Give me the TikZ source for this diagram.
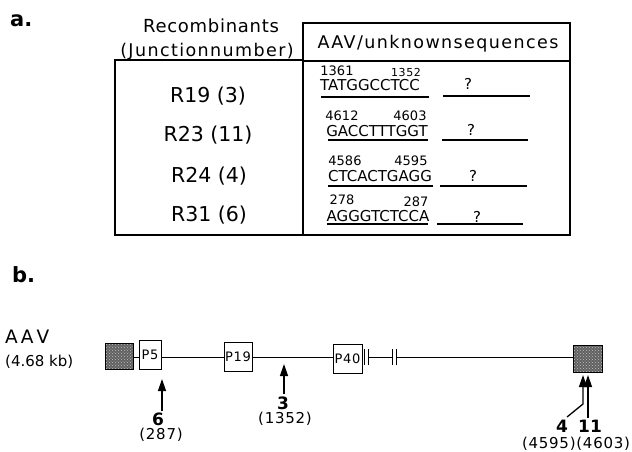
\documentclass[tikz,border=0pt]{standalone}
\usepackage{fontspec}
\setmainfont{DejaVu Sans}
\newfontfamily\lsten{DejaVu Sans}[LetterSpace=10]
\newfontfamily\lseight{DejaVu Sans}[LetterSpace=8]
\newfontfamily\lsfour{DejaVu Sans}[LetterSpace=4]
\newfontfamily\lsfive{DejaVu Sans}[LetterSpace=5]
\usetikzlibrary{arrows.meta,patterns}
\tikzset{
  hdr/.style={font=\lseight\fontsize{17.5}{17.5}\selectfont},
  rlab/.style={font=\fontsize{20.5}{20.5}\selectfont},
  seq/.style={font=\fontsize{15}{15}\selectfont},
  posn/.style={font=\fontsize{13}{13}\selectfont},
  poss/.style={font=\lsfive\fontsize{11}{11}\selectfont},
  qm/.style={font=\fontsize{15}{15}\selectfont},
  panel/.style={font=\bfseries\fontsize{21}{21}\selectfont, anchor=base west},
  pbox/.style={draw, line width=1pt, fill=white, minimum height=29pt, inner sep=0pt, font=\lsfive\fontsize{13}{13}\selectfont},
  gbox/.style={draw, line width=1pt, preaction={fill=black!62}, pattern=crosshatch dots, pattern color=white!75!black},
  junc/.style={font=\bfseries\fontsize{17}{17}\selectfont},
  jpos/.style={font=\lsfive\fontsize{15}{15}\selectfont},
  arr/.style={line width=1.3pt, -{Triangle[length=12pt,width=8pt]}},
  tline/.style={line width=1.3pt},
  uline/.style={line width=1.2pt}
}
\begin{document}
\begin{tikzpicture}[x=1pt,y=-1pt, every node/.style={inner sep=0pt}]
\useasboundingbox[fill=white] (0,0) rectangle (632,451);

% ---------- panel a ----------
\node[panel] (pa) at (10,26) {a.};
\node[font=\lsfour\fontsize{18}{18}\selectfont] (h1) at (211,26) {Recombinants};
\node[hdr] (h2) at (207,52) {(Junctionnumber)};
\node[hdr] (h3) at (438,44) {AAV/unknownsequences};

\draw[tline] (115,60) rectangle (303,235);
\draw[tline] (303,23) rectangle (570,235);
\draw[tline] (303,61) -- (570,61);

\node[rlab] (r1) at (208,96) {R19 (3)};
\node[rlab] (r2) at (208,135) {R23 (11)};
\node[rlab] (r3) at (209,176) {R24 (4)};
\node[rlab] (r4) at (209,215) {R31 (6)};

% row 1
\node[posn] (p1a) at (337,71) {1361};
\node[poss] (p1b) at (406,72) {1352};
\node[seq] (s1) at (370,85) {TATGGCCTCC};
\draw[uline] (321,97) -- (429,97);
\node[qm] (q1) at (468,84) {?};
\draw[uline] (443,96) -- (530,96);
% row 2
\node[posn] (p2a) at (342,116) {4612};
\node[posn] (p2b) at (410,116) {4603};
\node[seq] (s2) at (377,131) {GACCTTTGGT};
\draw[uline] (328,140) -- (428,140);
\node[qm] (q2) at (471,130) {?};
\draw[uline] (442,140) -- (528,140);
% row 3
\node[posn] (p3a) at (345,161) {4586};
\node[posn] (p3b) at (411,161) {4595};
\node[seq] (s3) at (380,176) {CTCACTGAGG};
\draw[uline] (328,186) -- (433,186);
\node[qm] (q3) at (473,176) {?};
\draw[uline] (440,186) -- (527,186);
% row 4
\node[posn] (p4a) at (342,200) {278};
\node[posn] (p4b) at (416,202) {287};
\node[seq] (s4) at (378,216) {AGGGTCTCCA};
\draw[uline] (327,224) -- (428,224);
\node[qm] (q4) at (477,217) {?};
\draw[uline] (437,224) -- (523,224);

% ---------- panel b ----------
\node[panel] (pb) at (12,282) {b.};
\node[anchor=base west, font=\fontsize{18.5}{18.5}\selectfont] (aav) at (5,343) {A\hspace{3pt}A\hspace{3pt}V};
\node[anchor=base west, font=\fontsize{15}{15}\selectfont] (len) at (5,366) {(4.68 kb)};

\node[gbox, minimum width=28pt, minimum height=26pt] (gl) at (119,356) {};
\node[pbox, minimum width=22pt] (p5) at (150,354.5) {P5};
\node[pbox, minimum width=28pt] (p19) at (238,356.5) {P19};
\node[pbox, minimum width=29pt] (p40) at (347.5,358.5) {P40};
\node[gbox, minimum width=29pt, minimum height=27pt] (gr) at (587.5,358.5) {};

\coordinate (k1) at (364,357);
\coordinate (k2) at (368,357);
\coordinate (k3) at (392,357);
\coordinate (k4) at (396,357);

\draw[line width=0.9pt] (gl.east |- 0,357) -- (p5.west |- 0,357);
\draw[line width=0.9pt] (p5.east |- 0,357) -- (p19.west |- 0,357);
\draw[line width=0.9pt] (p19.east |- 0,357) -- (p40.west |- 0,357);
\draw[line width=0.9pt] (k2) -- (k3);
\draw[line width=0.9pt] (k4) -- (gr.west |- 0,357);
\foreach \k in {k1,k2,k3,k4} \draw[line width=1pt] ([yshift=-8pt]\k) -- ([yshift=8pt]\k);

% junction arrows
\node[junc] (j6) at (158,419) {6};
\node[jpos] (j6p) at (161,435) {(287)};
\coordinate (a6s) at (162,411);
\coordinate (a6t) at (162,379);
\draw[arr] (a6s) -- (a6t);

\node[junc] (j3) at (283,403) {3};
\node[jpos] (j3p) at (285,419) {(1352)};
\coordinate (a3s) at (284,394);
\coordinate (a3t) at (284,364);
\draw[arr] (a3s) -- (a3t);

\node[junc] (j4) at (562,426) {4};
\node[junc] (j11) at (590,426) {11};
\node[jpos] (j411p) at (576,443.5) {(4595)(4603)};
\coordinate (a4s) at (567,417);
\coordinate (a4m) at (583,404);
\coordinate (a4t) at (583,375);
\draw[arr] (a4s) -- (a4m) -- (a4t);
\coordinate (a11s) at (588,418);
\coordinate (a11t) at (588,375);
\draw[arr] (a11s) -- (a11t);
\end{tikzpicture}
\end{document}
